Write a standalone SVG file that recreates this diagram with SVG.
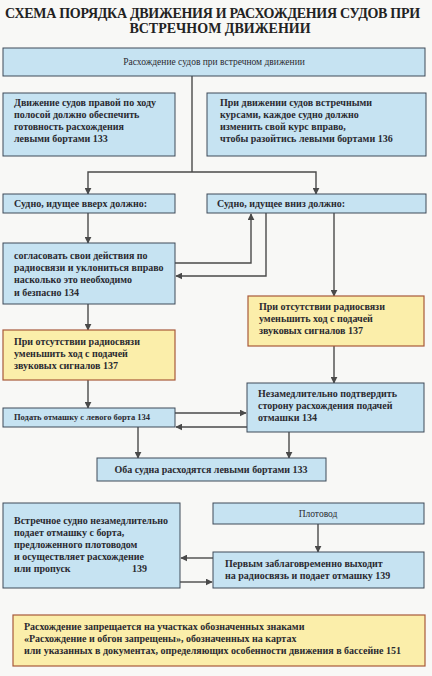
<svg xmlns="http://www.w3.org/2000/svg" width="432" height="676" viewBox="0 0 432 676">
<defs>
<marker id="ah" viewBox="0 0 10 10" refX="9" refY="5" markerWidth="7" markerHeight="7" orient="auto" markerUnits="userSpaceOnUse">
<path d="M0,0 L10,5 L0,10 z" fill="#4a4a4a"/>
</marker>
<style>
.bg{fill:#f8f8f6}
.b{fill:#c6e3f2;stroke:#3e4a58;stroke-width:1}
.y{fill:#fbeeaa;stroke:#a85a3a;stroke-width:1.2}
text{font-family:"Liberation Serif","DejaVu Serif","Times New Roman",serif}
.t{font-size:10px;font-weight:bold;fill:#2a2a30}
.tn{font-size:9.5px;fill:#2a2a30}
.ts{font-size:8.5px;font-weight:bold;fill:#2a2a30}
.h{font-size:14px;font-weight:bold;fill:#222}
.c{fill:none;stroke:#4a4a4a;stroke-width:1.4}
.a{fill:none;stroke:#4a4a4a;stroke-width:1.4;marker-end:url(#ah)}
</style>
</defs>
<rect class="bg" x="0" y="0" width="432" height="676"/>
<g id="title">
<text class="h" x="5" y="18" letter-spacing="-0.3">СХЕМА ПОРЯДКА ДВИЖЕНИЯ И РАСХОЖДЕНИЯ СУДОВ ПРИ</text>
<text class="h" x="220" y="33" text-anchor="middle">ВСТРЕЧНОМ ДВИЖЕНИИ</text>
</g>
<g id="connectors">
<path class="c" d="M192,76 V172"/>
<path class="a" d="M192,172 H88 V194"/>
<path class="a" d="M192,172 H316 V194"/>
<path class="a" d="M88,213 V243"/>
<path class="a" d="M175,263 H251 V214"/>
<path class="a" d="M266,213 V276 H176"/>
<path class="a" d="M334,213 V296"/>
<path class="a" d="M88,304 V330"/>
<path class="a" d="M88,380 V408"/>
<path class="a" d="M334,346 V383"/>
<path class="a" d="M175,413 H246"/>
<path class="a" d="M247,427 H176"/>
<path class="a" d="M138,427 V458"/>
<path class="a" d="M289,432 V458"/>
<path class="a" d="M318,524 V552"/>
<path class="a" d="M213,558 H181"/>
<path class="a" d="M180,582 H212"/>
</g>
<g id="n-top">
<rect class="b" x="3" y="48" width="422" height="28"/>
<text class="tn" x="214" y="65" text-anchor="middle">Расхождение судов при встречном движении</text>
</g>
<g id="n-a">
<rect class="b" x="3" y="93" width="172" height="63"/>
<text class="t" x="14" y="106">Движение судов правой по ходу</text>
<text class="t" x="14" y="118">полосой должно обеспечить</text>
<text class="t" x="14" y="130">готовность расхождения</text>
<text class="t" x="14" y="142">левыми бортами   133</text>
</g>
<g id="n-b">
<rect class="b" x="207" y="93" width="219" height="63"/>
<text class="t" x="220" y="106">При движении судов встречными</text>
<text class="t" x="220" y="118">курсами, каждое судно должно</text>
<text class="t" x="220" y="130">изменить свой курс вправо,</text>
<text class="t" x="220" y="142">чтобы разойтись левыми бортами  136</text>
</g>
<g id="n-c">
<rect class="b" x="3" y="194" width="172" height="19"/>
<text class="t" x="14" y="207">Судно, идущее вверх должно:</text>
</g>
<g id="n-d">
<rect class="b" x="207" y="194" width="219" height="19"/>
<text class="t" x="217" y="207">Судно, идущее вниз должно:</text>
</g>
<g id="n-e">
<rect class="b" x="3" y="243" width="172" height="61"/>
<text class="t" x="14" y="259">согласовать свои действия по</text>
<text class="t" x="14" y="271">радиосвязи и уклониться вправо</text>
<text class="t" x="14" y="283">насколько это необходимо</text>
<text class="t" x="14" y="296">и безпасно 134</text>
</g>
<g id="n-f">
<rect class="y" x="248" y="296" width="176" height="50"/>
<text class="t" x="259" y="310">При отсутствии радиосвязи</text>
<text class="t" x="259" y="322">уменьшить ход с подачей</text>
<text class="t" x="259" y="334">звуковых сигналов     137</text>
</g>
<g id="n-g">
<rect class="y" x="3" y="330" width="172" height="50"/>
<text class="t" x="14" y="345">При отсутствии радиосвязи</text>
<text class="t" x="14" y="357">уменьшить ход с подачей</text>
<text class="t" x="14" y="369">звуковых сигналов     137</text>
</g>
<g id="n-h">
<rect class="b" x="3" y="408" width="172" height="19"/>
<text class="ts" x="14" y="420">Подать отмашку с левого борта   134</text>
</g>
<g id="n-i">
<rect class="b" x="247" y="383" width="177" height="49"/>
<text class="t" x="258" y="397">Незамедлительно подтвердить</text>
<text class="t" x="258" y="409">сторону расхождения подачей</text>
<text class="t" x="258" y="421">отмашки     134</text>
</g>
<g id="n-j">
<rect class="b" x="97" y="458" width="229" height="23"/>
<text class="t" x="211" y="473" text-anchor="middle">Оба судна расходятся левыми бортами  133</text>
</g>
<g id="n-k">
<rect class="b" x="3" y="503" width="177" height="85"/>
<text class="t" x="14" y="524">Встречное судно незамедлительно</text>
<text class="t" x="14" y="536">подает отмашку с борта,</text>
<text class="t" x="14" y="548">предложенного плотоводом</text>
<text class="t" x="14" y="560">и осуществляет расхождение</text>
<text class="t" x="14" y="572">или пропуск</text>
<text class="t" x="132" y="572">139</text>
</g>
<g id="n-l">
<rect class="b" x="213" y="503" width="211" height="21"/>
<text class="tn" x="318" y="517" text-anchor="middle">Плотовод</text>
</g>
<g id="n-m">
<rect class="b" x="213" y="552" width="211" height="36"/>
<text class="t" x="225" y="567">Первым заблаговременно выходит</text>
<text class="t" x="225" y="579">на радиосвязь и подает отмашку  139</text>
</g>
<g id="n-n">
<rect class="y" x="13" y="615" width="412" height="51"/>
<text class="t" x="24" y="630">Расхождение запрещается на участках обозначенных знаками</text>
<text class="t" x="24" y="642">«Расхождение и обгон запрещены», обозначенных на картах</text>
<text class="t" x="24" y="654">или указанных в документах, определяющих особенности движения в бассейне 151</text>
</g>
</svg>
